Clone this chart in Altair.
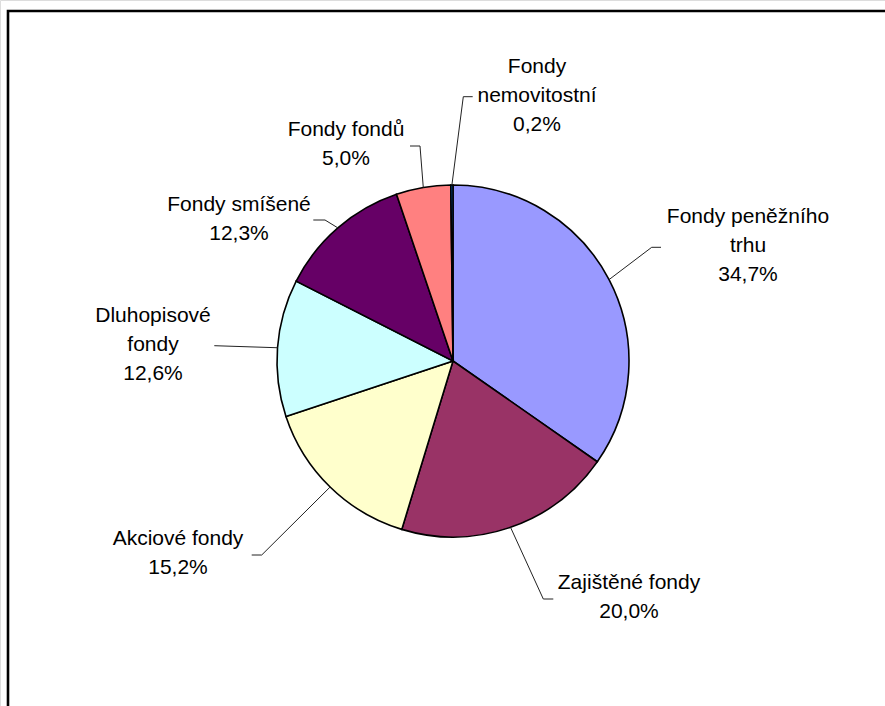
import math
import altair as alt
import pandas as pd

# ---------------- data ----------------
categories = [
    "Fondy peněžního trhu",
    "Zajištěné fondy",
    "Akciové fondy",
    "Dluhopisové fondy",
    "Fondy smíšené",
    "Fondy fondů",
    "Fondy nemovitostní",
]
shares = [34.7, 20.0, 15.2, 12.6, 12.3, 5.0, 0.2]
label_names = [
    "Fondy peněžního\ntrhu",
    "Zajištěné fondy",
    "Akciové fondy",
    "Dluhopisové\nfondy",
    "Fondy smíšené",
    "Fondy fondů",
    "Fondy\nnemovitostní",
]
colors = ["#9999FF", "#993366", "#FFFFCC", "#CCFFFF", "#660066", "#FF8080", "#0066CC"]

# ---------------- layout ----------------
W, H = 885, 706
CX, CY, R = 453, 361, 176
FONT = "Liberation Sans"
LINE_H = 29
# (x centre, y centre of first text line) for each label
label_pos = [(748, 216.5), (629, 582.5), (178, 538.5), (153, 315.5), (239, 204.5), (346, 130), (537, 67)]
leader_elbow = [(651.7, 247.3), (543.3, 599), (261.7, 555), (214.3, 345.7), (325, 220), (420, 146), (463.3, 96.7)]
leader_end = [(661, 247.3), (553.3, 599), (251.7, 555), (214.3, 345.7), (313.3, 220), (410, 146), (472.7, 96.7)]

# ---------------- tables ----------------
total = sum(shares)
pie_df = pd.DataFrame({"category": categories, "share": shares, "idx": list(range(len(shares)))})

def pct(v):
    return f"{v:.1f}".replace(".", ",") + "%"

lab_df = pd.DataFrame({
    "category": categories,
    "label": [f"{n}\n{pct(v)}" for n, v in zip(label_names, shares)],
    "x": [p[0] for p in label_pos],
    "y": [p[1] for p in label_pos],
})

rows = []
cum = 0.0
for i, (c, v) in enumerate(zip(categories, shares)):
    mid = (cum + v / 2) / total * 2 * math.pi
    cum += v
    ex, ey = CX + R * math.sin(mid), CY - R * math.cos(mid)
    pts = [(ex, ey), leader_elbow[i], leader_end[i]]
    for k, (px, py) in enumerate(pts):
        rows.append({"category": c, "pt": k, "x": px, "y": py})
line_df = pd.DataFrame(rows)

xs = alt.Scale(domain=[0, W], range=[0, W], zero=False, nice=False)
ys = alt.Scale(domain=[0, H], range=[0, H], zero=False, nice=False)

border = alt.Chart(pd.DataFrame({"a": [0]})).mark_rect(
    fillOpacity=0, stroke="black", strokeWidth=2.6
).encode(x=alt.value(8), y=alt.value(11), x2=alt.value(W + 20), y2=alt.value(H + 20))

pie = alt.Chart(pie_df).mark_arc(radius=R, stroke="black", strokeWidth=1.6).encode(
    theta=alt.Theta("share:Q", stack=True),
    color=alt.Color("category:N", scale=alt.Scale(domain=categories, range=colors), legend=None),
    order=alt.Order("idx:Q"),
    x=alt.value(CX),
    y=alt.value(CY),
)

leaders = alt.Chart(line_df).mark_line(color="#222222", strokeWidth=1).encode(
    x=alt.X("x:Q", scale=xs, axis=None),
    y=alt.Y("y:Q", scale=ys, axis=None),
    detail="category:N",
    order="pt:Q",
)

labels = alt.Chart(lab_df).mark_text(
    font=FONT, fontSize=21, lineBreak="\n", lineHeight=LINE_H, align="center", baseline="middle", color="black"
).encode(
    x=alt.X("x:Q", scale=xs, axis=None),
    y=alt.Y("y:Q", scale=ys, axis=None),
    text="label:N",
)

chart = alt.layer(border, pie, leaders, labels).properties(
    width=W, height=H, autosize=alt.AutoSizeParams(type="none"), padding=0
).configure_view(stroke=None).configure(background="white")

chart.save("out.html", embed_options={"renderer": "svg", "actions": False})
